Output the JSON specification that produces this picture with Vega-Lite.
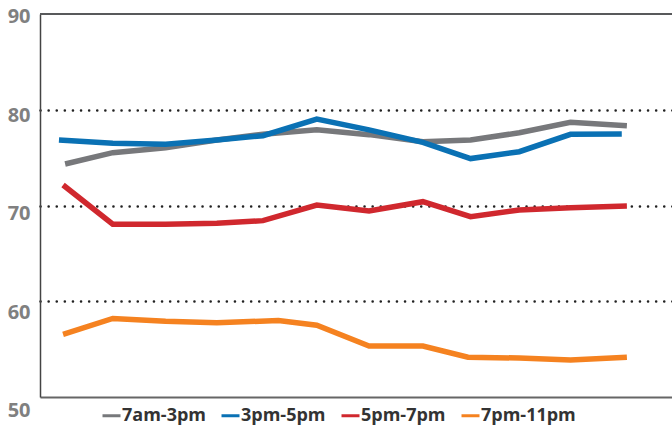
{
  "$schema": "https://vega.github.io/schema/vega-lite/v6.json",
  "width": 632,
  "height": 383,
  "autosize": {"type": "none"},
  "padding": {"left": 40, "top": 14, "right": 0, "bottom": 37},
  "background": "#ffffff",
  "config": {
    "view": {"stroke": null},
    "font": "Open Sans"
  },
  "layer": [
    {
      "data": {
        "values": [
          {"series": "7am-3pm", "x": 1.04, "y": 74.33},
          {"series": "7am-3pm", "x": 1.97, "y": 75.52},
          {"series": "7am-3pm", "x": 3.0, "y": 76.04},
          {"series": "7am-3pm", "x": 4.0, "y": 76.84},
          {"series": "7am-3pm", "x": 4.9, "y": 77.45},
          {"series": "7am-3pm", "x": 5.95, "y": 77.9},
          {"series": "7am-3pm", "x": 6.97, "y": 77.4},
          {"series": "7am-3pm", "x": 8.02, "y": 76.67},
          {"series": "7am-3pm", "x": 8.95, "y": 76.84},
          {"series": "7am-3pm", "x": 9.9, "y": 77.6},
          {"series": "7am-3pm", "x": 10.9, "y": 78.7},
          {"series": "7am-3pm", "x": 12.0, "y": 78.34},
          {"series": "3pm-5pm", "x": 0.92, "y": 76.84},
          {"series": "3pm-5pm", "x": 1.97, "y": 76.49},
          {"series": "3pm-5pm", "x": 3.0, "y": 76.39},
          {"series": "3pm-5pm", "x": 4.0, "y": 76.84},
          {"series": "3pm-5pm", "x": 4.9, "y": 77.29},
          {"series": "3pm-5pm", "x": 5.95, "y": 79.03},
          {"series": "3pm-5pm", "x": 6.97, "y": 77.9},
          {"series": "3pm-5pm", "x": 8.02, "y": 76.6},
          {"series": "3pm-5pm", "x": 8.95, "y": 74.9},
          {"series": "3pm-5pm", "x": 9.9, "y": 75.62},
          {"series": "3pm-5pm", "x": 10.9, "y": 77.43},
          {"series": "3pm-5pm", "x": 11.9, "y": 77.46},
          {"series": "5pm-7pm", "x": 1.0, "y": 72.14},
          {"series": "5pm-7pm", "x": 1.97, "y": 68.04},
          {"series": "5pm-7pm", "x": 3.0, "y": 68.04},
          {"series": "5pm-7pm", "x": 4.0, "y": 68.14},
          {"series": "5pm-7pm", "x": 4.9, "y": 68.42},
          {"series": "5pm-7pm", "x": 5.95, "y": 70.05},
          {"series": "5pm-7pm", "x": 6.97, "y": 69.43},
          {"series": "5pm-7pm", "x": 8.02, "y": 70.4},
          {"series": "5pm-7pm", "x": 8.95, "y": 68.83},
          {"series": "5pm-7pm", "x": 9.9, "y": 69.53},
          {"series": "5pm-7pm", "x": 10.9, "y": 69.77},
          {"series": "5pm-7pm", "x": 12.0, "y": 69.95},
          {"series": "7pm-11pm", "x": 1.0, "y": 56.55},
          {"series": "7pm-11pm", "x": 1.97, "y": 58.2},
          {"series": "7pm-11pm", "x": 3.0, "y": 57.9},
          {"series": "7pm-11pm", "x": 4.0, "y": 57.76},
          {"series": "7pm-11pm", "x": 5.2, "y": 57.98},
          {"series": "7pm-11pm", "x": 5.95, "y": 57.5},
          {"series": "7pm-11pm", "x": 6.97, "y": 55.33},
          {"series": "7pm-11pm", "x": 8.02, "y": 55.33},
          {"series": "7pm-11pm", "x": 8.9, "y": 54.15},
          {"series": "7pm-11pm", "x": 9.9, "y": 54.07},
          {"series": "7pm-11pm", "x": 10.9, "y": 53.86},
          {"series": "7pm-11pm", "x": 12.0, "y": 54.15}
        ]
      },
      "mark": {"type": "line", "strokeWidth": 5.5, "strokeCap": "butt", "strokeJoin": "miter"},
      "encoding": {
        "x": {
          "field": "x",
          "type": "quantitative",
          "scale": {"domain": [0.55, 12.88], "nice": false, "zero": false},
          "axis": {"title": null, "labels": false, "ticks": false, "grid": false, "domain": true, "domainColor": "#666666", "domainWidth": 2}
        },
        "y": {
          "field": "y",
          "type": "quantitative",
          "scale": {"domain": [50, 90], "nice": false, "zero": false},
          "axis": {
            "title": null,
            "values": [50, 60, 70, 80, 90],
            "ticks": false,
            "domain": true,
            "domainColor": "#444444",
            "domainWidth": 1.5,
            "labelFont": "Open Sans",
            "labelFontSize": 20,
            "labelFontWeight": "bold",
            "labelColor": "#808080",
            "labelPadding": 10,
            "labelOffset": {"expr": "(90 - datum.value) * 0.28 + 2.7"},
            "grid": true,
            "gridColor": "#222222",
            "gridWidth": 2.5,
            "gridDash": [0.1, 8],
            "gridCap": "round",
            "gridOpacity": {"condition": {"test": "datum.value == 90 || datum.value == 50", "value": 0}, "value": 1}
          }
        },
        "color": {
          "field": "series",
          "type": "nominal",
          "scale": {
            "domain": ["7am-3pm", "3pm-5pm", "5pm-7pm", "7pm-11pm"],
            "range": ["#77787b", "#0a71b4", "#d0282e", "#f58220"]
          },
          "legend": {
            "title": null,
            "orient": "none",
            "direction": "horizontal",
            "legendX": 61,
            "legendY": 391,
            "symbolType": "stroke",
            "symbolSize": 324,
            "symbolStrokeWidth": 3,
            "labelFont": "Open Sans",
            "labelFontSize": 18,
            "labelFontWeight": "bold",
            "labelColor": "#333333",
            "labelOffset": 0,
            "columnPadding": 9
          }
        }
      }
    },
    {
      "data": {"values": [{"top": 90}]},
      "mark": {"type": "rule", "color": "#58595b", "strokeWidth": 2},
      "encoding": {"y": {"field": "top", "type": "quantitative"}}
    }
  ]
}
